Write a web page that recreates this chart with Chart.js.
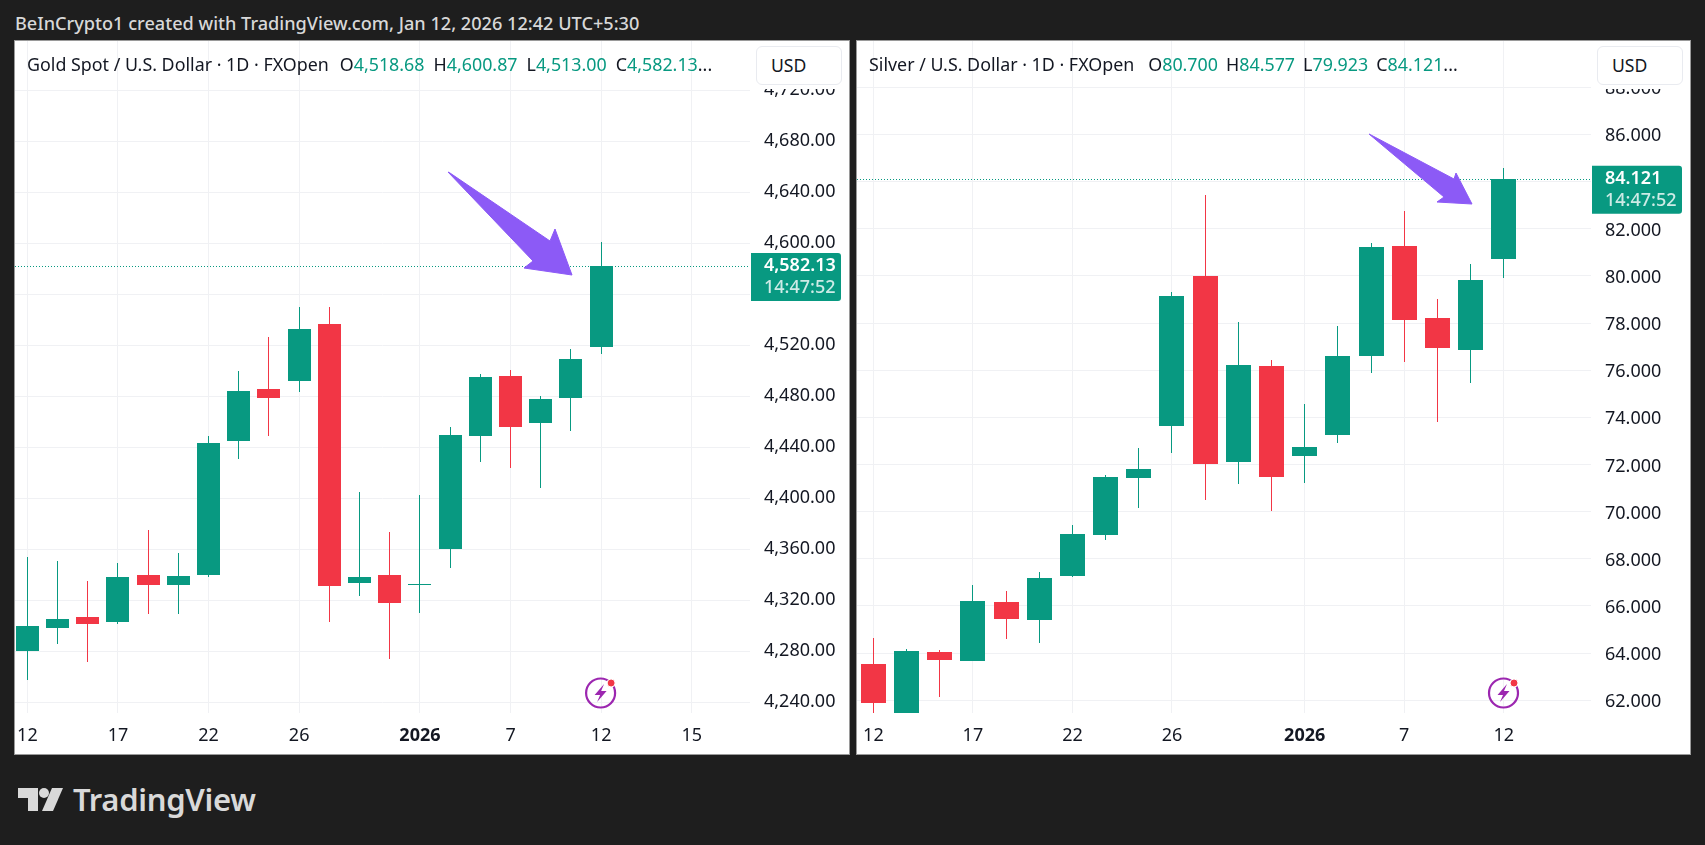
<!DOCTYPE html>
<html>
<head>
<meta charset="utf-8">
<title>Gold and Silver daily</title>
<script src="https://cdn.jsdelivr.net/npm/chart.js@4"></script>
<style>
  html, body { margin: 0; padding: 0; background: #1e1e1e; width: 1705px; height: 845px; overflow: hidden; }
  body, div, span { font-family: "Noto Sans", sans-serif; }
  .top { position: absolute; left: 15px; top: 13px; color: #d8d8d8; font-size: 18.15px; line-height: 20px; font-weight: 500; white-space: nowrap; }
  .panel { position: absolute; top: 41px; width: 834px; height: 713px; background: #fff; box-shadow: 0 0 0 1px #9a9a9a; }
  .panel canvas { position: absolute; left: 0; top: 0; }
  .cover { position: absolute; top: 0; height: 48px; background: #fff; }
  .legend { position: absolute; top: 12px; color: #131722; font-size: 17.85px; line-height: 22px; white-space: nowrap; }
  .legend b { font-weight: 400; color: #089981; margin-right: 9px; }
  .legend i { font-style: normal; margin-left: 11px; }
  .legend.silver b { margin-right: 8px; }
  .legend.silver i { margin-left: 14px; }
  .usd { position: absolute; top: 5px; width: 84px; height: 37px; background: #fff; border: 1px solid #e9ebf0; border-radius: 6px; color: #131722; font-size: 17.6px; line-height: 37px; text-indent: 14px; }
  .brand { position: absolute; left: 73px; top: 778px; color: #d9d9d9; font-size: 31px; line-height: 42px; font-weight: 600; letter-spacing: -0.3px; }
  svg.over { position: absolute; left: 0; top: 0; pointer-events: none; }
</style>
</head>
<body>
<div class="top">BeInCrypto1 created with TradingView.com, Jan 12, 2026 12:42 UTC+5:30</div>

<div class="panel" style="left:15px">
  <canvas id="gold" width="834" height="713"></canvas>
  <div class="cover" style="left:735px;width:99px"></div>
  <div class="legend" style="left:12px">Gold Spot / U.S. Dollar · 1D · FXOpen<i>O</i><b>4,518.68</b>H<b>4,600.87</b>L<b>4,513.00</b>C<b style="margin:0">4,582.13</b>...</div>
  <div class="usd" style="left:741px">USD</div>
</div>

<div class="panel" style="left:857px;width:833px">
  <canvas id="silver" width="833" height="713"></canvas>
  <div class="cover" style="left:734px;width:99px"></div>
  <div class="legend silver" style="left:12px">Silver / U.S. Dollar · 1D · FXOpen<i>O</i><b>80.700</b>H<b>84.577</b>L<b>79.923</b>C<b style="margin:0">84.121</b>...</div>
  <div class="usd" style="left:740px">USD</div>
</div>

<div class="brand">TradingView</div>

<svg class="over" width="1705" height="845">
  <!-- drawn arrows -->
  <path d="M448 172 L450 173 L550 241 L555 229 L572 275 L524 268 L533 261 Z" fill="#8c5af6" stroke="#8c5af6" stroke-linejoin="round"/>
  <path d="M1369 134 L1371 135 L1454 179 L1456 173 L1472 204 L1437 202 L1444 197 Z" fill="#8c5af6" stroke="#8c5af6" stroke-linejoin="round"/>
  <!-- bolt badges -->
  <g id="badge1" transform="translate(600.6 693)">
    <circle r="14.5" fill="none" stroke="#9c27b0" stroke-width="2.2"/>
    <path d="M3.5 -9 L-6 2 L-0.5 2 L-3.5 9 L6 -2 L0.5 -2 Z" fill="#9c27b0"/>
    <circle cx="10.5" cy="-10" r="4" fill="#f23645" stroke="#fff"/>
  </g>
  <g id="badge2" transform="translate(1503.5 693)">
    <circle r="14.5" fill="none" stroke="#9c27b0" stroke-width="2.2"/>
    <path d="M3.5 -9 L-6 2 L-0.5 2 L-3.5 9 L6 -2 L0.5 -2 Z" fill="#9c27b0"/>
    <circle cx="10.5" cy="-10" r="4" fill="#f23645" stroke="#fff"/>
  </g>
  <!-- logo mark -->
  <path d="M18 788 H38 V811 H28 V798 H18 Z" fill="#d9d9d9"/>
  <circle cx="44" cy="793" r="5" fill="#d9d9d9"/>
  <path d="M52 788 H63 L53 811 H42 Z" fill="#d9d9d9"/>
</svg>

<script>
// ticks along the time axis, one slot per trading day
const dayTicks = ['12', '', '', '17', '', '', '22', '', '', '26', '', '', '', '2026', '', '', '7', '', '', '12', '', '', '15'];

const goldPriceTicks = [4240, 4280, 4320, 4360, 4400, 4440, 4480, 4520, 4560, 4600, 4640, 4680, 4720];
const silverPriceTicks = [62, 64, 66, 68, 70, 72, 74, 76, 78, 80, 82, 84, 86, 88];

// Gold
const goldOpen = [4280.5, 4298.6, 4306.9, 4303.3, 4339.9, 4332.3, 4340.1, 4445.2, 4485.8, 4492.3, 4536.7, 4333.6, 4339.9, 4332.3, 4360.5, 4449.1, 4495.9, 4459.3, 4479.0, 4518.68];
const goldHigh = [4354.0, 4350.8, 4335.1, 4349.3, 4375.1, 4357.1, 4448.9, 4499.9, 4526.5, 4550.0, 4550.0, 4404.9, 4373.6, 4402.6, 4455.9, 4497.5, 4500.7, 4480.0, 4517.1, 4600.87];
const goldLow = [4257.5, 4285.7, 4271.6, 4301.7, 4309.3, 4309.3, 4338.5, 4430.8, 4448.9, 4483.7, 4303.0, 4323.6, 4274.0, 4310.1, 4345.6, 4428.5, 4423.8, 4408.1, 4452.8, 4513.0];
const goldClose = [4299.9, 4305.4, 4301.7, 4338.3, 4332.3, 4339.1, 4443.4, 4484.2, 4479.0, 4532.8, 4331.5, 4338.3, 4318.2, 4332.7, 4449.6, 4495.2, 4456.2, 4477.9, 4509.3, 4582.13];

// Silver
const silverOpen = [63.54, 61.3, 64.05, 63.67, 66.17, 65.41, 67.27, 69.01, 71.43, 73.63, 79.99, 72.11, 76.18, 72.36, 73.25, 76.6, 81.27, 78.21, 76.86, 80.7];
const silverHigh = [64.64, 64.18, 64.13, 66.89, 66.64, 67.44, 69.43, 71.55, 72.7, 79.31, 83.43, 78.04, 76.43, 74.57, 77.87, 81.39, 82.75, 79.02, 80.5, 84.577];
const silverLow = [61.4, 61.2, 62.14, 63.67, 64.6, 64.43, 67.23, 68.8, 70.16, 72.49, 70.49, 71.17, 70.03, 71.22, 72.91, 75.88, 76.35, 73.82, 75.46, 79.923];
const silverClose = [61.9, 64.09, 63.71, 66.21, 65.45, 67.19, 69.05, 71.47, 71.81, 79.14, 72.04, 76.22, 71.47, 72.74, 76.6, 81.22, 78.13, 76.94, 79.82, 84.121];

const UP = '#089981';
const DOWN = '#f23645';
const FONT = '"Noto Sans", sans-serif';

function money(value, digits) {
    return value.toLocaleString('en-US', { minimumFractionDigits: digits, maximumFractionDigits: digits });
}

// snap candles and the last price line to whole pixels so they stay crisp
const pixelSnap = {
    id: 'pixelSnap',
    beforeDatasetsDraw(chart) {
        chart.getSortedVisibleDatasetMetas().forEach(meta => {
            meta.data.forEach(el => {
                if (meta.type === 'line') {
                    el.y = Math.round(el.y) + 0.5;
                } else {
                    el.x = Math.floor(el.x) + 0.5;
                    el.y = Math.round(el.y);
                    el.base = Math.round(el.base);
                }
            });
        });
    }
};

function candleChart(id, cfg) {
    const colors = cfg.open.map((o, i) => (cfg.close[i] >= o ? UP : DOWN));
    const lastClose = cfg.close[cfg.close.length - 1];

    // price tag sitting on the axis at the last close
    const priceTag = {
        id: 'priceTag',
        afterDraw(chart) {
            const ctx = chart.ctx;
            const y = chart.scales.y.getPixelForValue(lastClose);
            const left = chart.chartArea.right + 1;
            ctx.save();
            ctx.fillStyle = UP;
            ctx.beginPath();
            ctx.roundRect(left, y - 13, 90, 48, [0, 3, 3, 0]);
            ctx.fill();
            ctx.textBaseline = 'middle';
            ctx.fillStyle = '#fff';
            ctx.font = '600 18px ' + FONT;
            ctx.fillText(money(lastClose, cfg.digits), chart.chartArea.right + 14, y);
            ctx.fillStyle = 'rgba(255,255,255,0.8)';
            ctx.font = '500 18px ' + FONT;
            ctx.fillText('14:47:52', chart.chartArea.right + 14, y + 22);
            ctx.restore();
        }
    };

    new Chart(document.getElementById(id), {
        type: 'bar',
        data: {
            datasets: [
                {
                    type: 'line',
                    data: [{ x: cfg.xMin, y: lastClose }, { x: cfg.xMax, y: lastClose }],
                    borderColor: UP,
                    borderWidth: 1,
                    borderDash: [1, 2],
                    pointRadius: 0,
                    order: 3
                },
                {
                    data: cfg.low.map((l, i) => ({ x: i, y: [l, cfg.high[i]] })),
                    backgroundColor: colors,
                    barThickness: 1,
                    inflateAmount: 0,
                    grouped: false,
                    order: 2
                },
                {
                    data: cfg.open.map((o, i) => ({ x: i, y: [o, cfg.close[i]] })),
                    backgroundColor: colors,
                    barThickness: cfg.bodyWidth,
                    inflateAmount: 0,
                    minBarLength: 1,
                    grouped: false,
                    order: 1
                }
            ]
        },
        options: {
            responsive: false,
            animation: false,
            events: [],
            layout: { padding: 0 },
            plugins: { legend: { display: false }, tooltip: { enabled: false } },
            scales: {
                x: {
                    type: 'linear',
                    bounds: 'data',
                    offset: false,
                    min: cfg.xMin,
                    max: cfg.xMax,
                    afterBuildTicks(scale) {
                        scale.ticks = cfg.days.flatMap((label, i) => (label ? [{ value: i }] : []));
                    },
                    afterFit(scale) {
                        scale.height = 41;
                        scale.paddingLeft = scale.paddingRight = 0;
                    },
                    border: { display: false },
                    grid: { offset: false, drawTicks: false, color: '#f0f1f4' },
                    ticks: {
                        autoSkip: false,
                        maxRotation: 0,
                        padding: 12,
                        color: '#131722',
                        font: ctx => ({ family: FONT, size: 18, weight: ctx.tick && cfg.days[ctx.tick.value] === '2026' ? 'bold' : 'normal' }),
                        callback: value => cfg.days[value]
                    }
                },
                y: {
                    position: 'right',
                    bounds: 'data',
                    min: cfg.yMin,
                    max: cfg.yMax,
                    afterBuildTicks(scale) {
                        scale.ticks = cfg.prices.map(value => ({ value }));
                    },
                    afterFit(scale) {
                        scale.width = 99;
                        scale.paddingTop = scale.paddingBottom = 0;
                    },
                    border: { display: false },
                    grid: { drawTicks: false, color: '#f0f1f4' },
                    ticks: {
                        autoSkip: false,
                        padding: 14,
                        labelOffset: cfg.labelShift,
                        color: '#131722',
                        font: { family: FONT, size: 18 },
                        callback: value => money(value, cfg.digits)
                    }
                }
            }
        },
        plugins: [pixelSnap, priceTag]
    });
}

candleChart('gold', {
    open: goldOpen, high: goldHigh, low: goldLow, close: goldClose,
    days: dayTicks, prices: goldPriceTicks,
    digits: 2, bodyWidth: 23, labelShift: 0,
    xMin: -0.41, xMax: 23.93, yMin: 4231.6, yMax: 4758.7
});

candleChart('silver', {
    open: silverOpen, high: silverHigh, low: silverLow, close: silverClose,
    days: dayTicks.slice(0, 20), prices: silverPriceTicks,
    digits: 3, bodyWidth: 25, labelShift: 2,
    xMin: -0.494, xMax: 21.63, yMin: 61.46, yMax: 89.96
});
</script>
</body>
</html>
